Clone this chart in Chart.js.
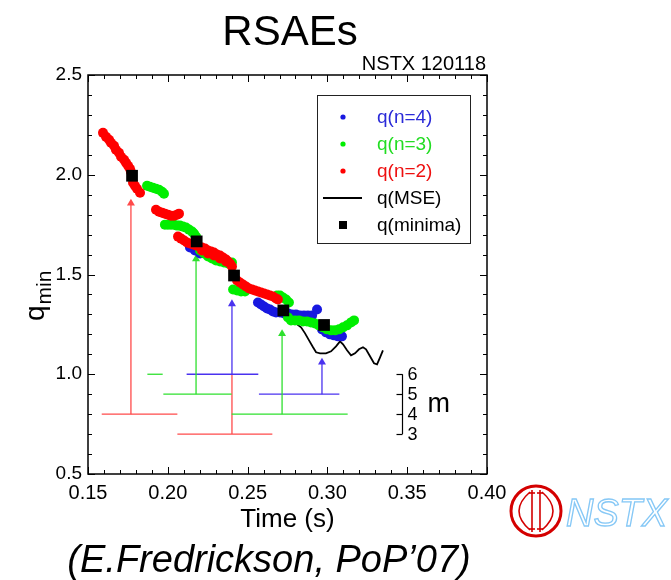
<!DOCTYPE html>
<html><head><meta charset="utf-8">
<script src="https://cdn.jsdelivr.net/npm/chart.js@4.4.1/dist/chart.umd.min.js"></script>
<style>html,body{margin:0;padding:0;background:#fff;}#wrap{width:671px;height:580px;}</style>
</head><body><div id="wrap"><canvas id="c" width="671" height="580"></canvas></div>
<script>
const FONT = "'Liberation Sans', Arial, Helvetica, sans-serif";

// ---- q(n=2) : red points ----
const n2Time = [0.1594,0.1613,0.1632,0.1644,0.1663,0.1675,0.1694,0.1707,0.1726,0.1738,0.1751,0.1763,0.1769,0.1782,0.1794,0.1807,0.1826,
  0.1926,0.1945,0.1964,0.1982,0.2001,0.2020,0.2039,0.2058,0.2070,
  0.2064,0.2083,0.2102,0.2120,0.2139,0.2158,0.2177,0.2196,0.2214,0.2233,0.2252,0.2271,0.2289,0.2308,0.2327,0.2346,0.2365,0.2377,0.2390,0.2402,
  0.2214,0.2252,0.2289,0.2327,0.2365,
  0.2434,0.2452,0.2471,0.2490,0.2509,0.2528,0.2546,0.2565,0.2584,0.2603,0.2622,0.2640,0.2659,0.2678,0.2690];
const n2Q = [2.21,2.19,2.175,2.16,2.145,2.125,2.11,2.09,2.075,2.06,2.045,2.03,2.015,1.96,1.945,1.93,1.91,
  1.825,1.815,1.81,1.805,1.80,1.795,1.795,1.80,1.805,
  1.69,1.68,1.67,1.66,1.655,1.65,1.645,1.64,1.635,1.63,1.62,1.615,1.61,1.60,1.595,1.585,1.575,1.565,1.555,1.54,
  1.62,1.605,1.595,1.58,1.565,
  1.47,1.46,1.45,1.44,1.43,1.425,1.42,1.415,1.41,1.405,1.40,1.395,1.39,1.38,1.375];

// ---- q(n=3) : green points ----
const n3Time = [0.1870,0.1888,0.1907,0.1926,0.1945,0.1964,0.1976,
  0.1982,0.2001,0.2020,0.2039,0.2058,0.2076,0.2095,0.2114,0.2133,0.2152,0.2164,0.2177,
  0.2202,0.2227,0.2252,0.2277,0.2302,0.2327,0.2352,0.2377,0.2402,
  0.2409,0.2434,0.2459,0.2484,
  0.2684,0.2703,0.2722,0.2741,0.2759,
  0.2753,0.2772,0.2797,0.2822,0.2847,0.2872,0.2897,0.2922,0.2947,0.2972,0.2997,0.3023,0.3048,0.3073,0.3098,0.3123,0.3148,0.3167];
const n3Q = [1.945,1.94,1.935,1.93,1.925,1.915,1.905,
  1.75,1.75,1.75,1.75,1.745,1.745,1.74,1.735,1.725,1.715,1.705,1.69,
  1.62,1.605,1.59,1.58,1.57,1.565,1.56,1.555,1.56,
  1.425,1.42,1.415,1.415,
  1.395,1.395,1.385,1.375,1.36,
  1.285,1.27,1.27,1.27,1.265,1.265,1.26,1.255,1.245,1.235,1.225,1.22,1.22,1.225,1.235,1.245,1.26,1.27];

// ---- q(n=4) : blue points ----
const n4Time = [0.2139,0.2170,0.2202,
  0.2565,0.2584,0.2603,0.2622,0.2640,0.2659,0.2678,0.2703,0.2728,0.2753,0.2778,0.2803,0.2828,0.2853,0.2878,0.2904,0.2935,
  0.2966,0.2991,0.3016,0.3041,0.3066,0.3091];
const n4Q = [1.635,1.62,1.605,
  1.36,1.35,1.34,1.33,1.325,1.315,1.31,1.31,1.305,1.305,1.30,1.30,1.295,1.295,1.295,1.295,1.325,
  1.225,1.21,1.20,1.195,1.19,1.19];

// ---- q(MSE) : black line ----
const mseTime = [0.2810,0.2835,0.2860,0.2885,0.2910,0.2929,0.2954,0.2991,0.3023,0.3054,0.3079,0.3098,0.3123,0.3148,0.3173,0.3198,0.3223,0.3242,0.3267,0.3292,0.3311,0.3330,0.3348];
const mseQ = [1.25,1.235,1.205,1.17,1.135,1.11,1.105,1.105,1.115,1.14,1.165,1.15,1.12,1.095,1.105,1.125,1.135,1.125,1.09,1.055,1.05,1.085,1.12];

// ---- q(minima) : black squares ----
const minTime = [0.1776,0.2181,0.2415,0.2724,0.2979];
const minQ = [1.995,1.666,1.495,1.32,1.247];

// ---- mode-number bars (m) ----
const barSeries = ['n2','n2','n3','n4','n3','n4','n3'];
const barM = [4,3,6,6,5,5,4];
const barStart = [0.1586,0.2060,0.1872,0.2118,0.1972,0.2571,0.2400];
const barEnd = [0.2060,0.2655,0.1968,0.2567,0.2400,0.3075,0.3127];

// ---- arrows from m bars up to q ----
const arrowSeries = ['n2','n3','n4','n3','n4'];
const arrowTime = [0.1769,0.2177,0.2402,0.2716,0.2966];
const arrowFromM = [4,5,6,4,5];
const arrowHeadQ = [1.857,1.578,1.353,1.203,1.060];
// red stem under the third arrow
const stemTime = [0.2402];
const stemFromM = [3];
const stemToM = [6];

const xTicks = [0.15,0.20,0.25,0.30,0.35,0.40];
const xTickLabels = ['0.15','0.20','0.25','0.30','0.35','0.40'];
const yTicks = [0.5,1.0,1.5,2.0,2.5];
const yTickLabels = ['0.5','1.0','1.5','2.0','2.5'];
const mLabels = [6,5,4,3];
const mScaleTime = 0.3466;

const DOT = {n2:'#ff0000', n3:'#00ee00', n4:'#1818e0'};
const LINE = {n2:'#ff4a4a', n3:'#2ee02e', n4:'#4a32ef'};
const TXT = {n2:'#ee1010', n3:'#22dd22', n4:'#2a2ad8'};

function mLevel(m){ return 0.4 + 0.1*m; }
function pts(ts, qs){ return ts.map((t,i)=>({x:t, y:qs[i]})); }

const datasets = [];
datasets.push({label:'q(minima)', data:pts(minTime,minQ), pointStyle:'rect', pointRadius:8.3, pointHoverRadius:8.3,
  backgroundColor:'#000', borderColor:'#000', pointBorderWidth:0, order:0});
datasets.push({label:'q(n=2)', data:pts(n2Time,n2Q), pointRadius:5, pointHoverRadius:5, backgroundColor:DOT.n2, borderColor:DOT.n2, pointBorderWidth:0, order:1});
datasets.push({label:'q(n=3)', data:pts(n3Time,n3Q), pointRadius:5, pointHoverRadius:5, backgroundColor:DOT.n3, borderColor:DOT.n3, pointBorderWidth:0, order:2});
datasets.push({label:'q(n=4)', data:pts(n4Time,n4Q), pointRadius:5, pointHoverRadius:5, backgroundColor:DOT.n4, borderColor:DOT.n4, pointBorderWidth:0, order:3});
datasets.push({label:'q(MSE)', data:pts(mseTime,mseQ), showLine:true, pointRadius:0, borderColor:'#000', borderWidth:1.8, tension:0, order:4});
barM.forEach((m,i)=>{
  datasets.push({label:'bar'+i, data:[{x:barStart[i],y:mLevel(m)},{x:barEnd[i],y:mLevel(m)}], showLine:true, pointRadius:0,
    borderColor:LINE[barSeries[i]], borderWidth:1.3, order:6});
});
stemTime.forEach((t,i)=>{
  datasets.push({label:'stem'+i, data:[{x:t,y:mLevel(stemFromM[i])},{x:t,y:mLevel(stemToM[i])}], showLine:true, pointRadius:0,
    borderColor:LINE.n2, borderWidth:1.3, order:6});
});
arrowTime.forEach((t,i)=>{
  const c = LINE[arrowSeries[i]];
  datasets.push({label:'arrow'+i, data:[{x:t,y:mLevel(arrowFromM[i])},{x:t,y:arrowHeadQ[i]}], showLine:true,
    pointRadius:[0,4.6], pointHoverRadius:[0,4.6], pointStyle:'triangle', pointBackgroundColor:c, pointBorderColor:c, pointBorderWidth:0,
    borderColor:c, borderWidth:1.3, order:5});
});

function seg(ctx,x1,y1,x2,y2){ ctx.beginPath(); ctx.moveTo(x1,y1); ctx.lineTo(x2,y2); ctx.stroke(); }

const decor = {
  id:'decor',
  afterDraw(chart){
    const {ctx, chartArea:a, scales:{x,y}} = chart;
    ctx.save();
    // inward tick marks on all four sides
    ctx.strokeStyle='#000'; ctx.lineWidth=1;
    for(let i=0;i<=25;i++){
      const px=Math.round(x.getPixelForValue(0.15+i*0.01))+0.5, L=(i%5===0)?7:4;
      seg(ctx,px,a.bottom,px,a.bottom-L); seg(ctx,px,a.top,px,a.top+L);
    }
    for(let i=0;i<=20;i++){
      const py=Math.round(y.getPixelForValue(0.5+i*0.1))+0.5, L=(i%5===0)?7:4;
      seg(ctx,a.left,py,a.left+L,py); seg(ctx,a.right,py,a.right-L,py);
    }
    ctx.lineWidth=1.5; ctx.strokeRect(a.left,a.top,a.right-a.left,a.bottom-a.top);

    // titles
    ctx.fillStyle='#000'; ctx.textBaseline='alphabetic';
    ctx.textAlign='center'; ctx.font='42px '+FONT; ctx.fillText('RSAEs',290,45);
    ctx.textAlign='right'; ctx.font='20px '+FONT; ctx.fillText('NSTX 120118',a.right-1,70);
    ctx.textAlign='center'; ctx.font='italic 38px '+FONT; ctx.fillText('(E.Fredrickson, PoP\u201907)',269,572);

    // y axis title q_min (rotated)
    ctx.save(); ctx.translate(44,321); ctx.rotate(-Math.PI/2);
    ctx.textAlign='left'; ctx.font='28px '+FONT; ctx.fillText('q',0,0);
    const qw=ctx.measureText('q').width;
    ctx.font='21px '+FONT; ctx.fillText('min',qw+1,7);
    ctx.restore();

    // m scale bracket
    const bx=Math.round(x.getPixelForValue(mScaleTime))+0.5;
    ctx.strokeStyle='#000'; ctx.lineWidth=1.2;
    seg(ctx,bx,y.getPixelForValue(mLevel(6)),bx,y.getPixelForValue(mLevel(3)));
    ctx.font='18px '+FONT; ctx.textAlign='left'; ctx.textBaseline='middle';
    mLabels.forEach(m=>{ const py=Math.round(y.getPixelForValue(mLevel(m)))+0.5; seg(ctx,bx-6,py,bx,py); ctx.fillText(String(m),bx+5,py+1); });
    ctx.font='27px '+FONT; ctx.fillText('m',bx+25,y.getPixelForValue(mLevel(4.5)));

    // legend
    ctx.lineWidth=1; ctx.strokeStyle='#222'; ctx.strokeRect(317.5,95.5,153,148);
    const rows=[['q(n=4)','n4',117],['q(n=3)','n3',144],['q(n=2)','n2',171],['q(MSE)','mse',198],['q(minima)','min',225]];
    ctx.font='19px '+FONT; ctx.textAlign='left'; ctx.textBaseline='middle';
    rows.forEach(([txt,key,ry])=>{
      if(DOT[key]){ ctx.fillStyle=DOT[key]; ctx.beginPath(); ctx.arc(343,ry,2.6,0,Math.PI*2); ctx.fill(); ctx.fillStyle=TXT[key]; }
      else if(key==='mse'){ ctx.strokeStyle='#000'; ctx.lineWidth=2; seg(ctx,323,ry,362,ry); ctx.fillStyle='#000'; }
      else { ctx.fillStyle='#000'; ctx.fillRect(339,ry-4,8,8); }
      ctx.fillText(txt,377,ry+1);
    });

    // NSTX logo
    ctx.strokeStyle='#d40000'; ctx.lineWidth=3;
    ctx.beginPath(); ctx.arc(536,511,25,0,Math.PI*2); ctx.stroke();
    ctx.lineWidth=1.6;
    ctx.beginPath(); ctx.moveTo(530,492); ctx.quadraticCurveTo(508,511,530,530); ctx.stroke();
    ctx.beginPath(); ctx.moveTo(542,492); ctx.quadraticCurveTo(564,511,542,530); ctx.stroke();
    seg(ctx,532,490,532,532); seg(ctx,540,490,540,532);
    seg(ctx,529,493,535,493); seg(ctx,537,493,543,493); seg(ctx,529,529,535,529); seg(ctx,537,529,543,529);
    ctx.strokeStyle='#86c8f6'; ctx.lineWidth=1.3; ctx.textAlign='left'; ctx.textBaseline='alphabetic';
    ctx.font='italic 38px '+FONT; ctx.strokeText('NSTX',566,526);
    ctx.restore();
  }
};

new Chart(document.getElementById('c'), {
  type:'scatter',
  data:{datasets},
  options:{
    responsive:false, animation:false, events:[],
    layout:{padding:{left:0,right:184,top:75,bottom:0}},
    plugins:{legend:{display:false}, tooltip:{enabled:false}, title:{display:false}},
    scales:{
      x:{type:'linear', position:'bottom', min:0.15, max:0.40,
        afterFit:s=>{ s.height=106; },
        afterBuildTicks:s=>{ s.ticks = xTicks.map(v=>({value:v})); },
        ticks:{callback:(v,i)=>xTickLabels[i], font:{family:FONT,size:20}, color:'#000', padding:7, maxRotation:0, autoSkip:false},
        grid:{display:false, drawTicks:false}, border:{display:false},
        title:{display:true, text:'Time (s)', font:{family:FONT,size:26}, color:'#000', padding:{top:0,bottom:45}}},
      y:{type:'linear', position:'left', min:0.5, max:2.5,
        afterFit:s=>{ s.width=88; },
        afterBuildTicks:s=>{ s.ticks = yTicks.map(v=>({value:v})); },
        ticks:{callback:(v,i)=>yTickLabels[i], font:{family:FONT,size:19}, color:'#000', padding:6},
        grid:{display:false, drawTicks:false}, border:{display:false}}
    }
  },
  plugins:[decor]
});
</script></body></html>
